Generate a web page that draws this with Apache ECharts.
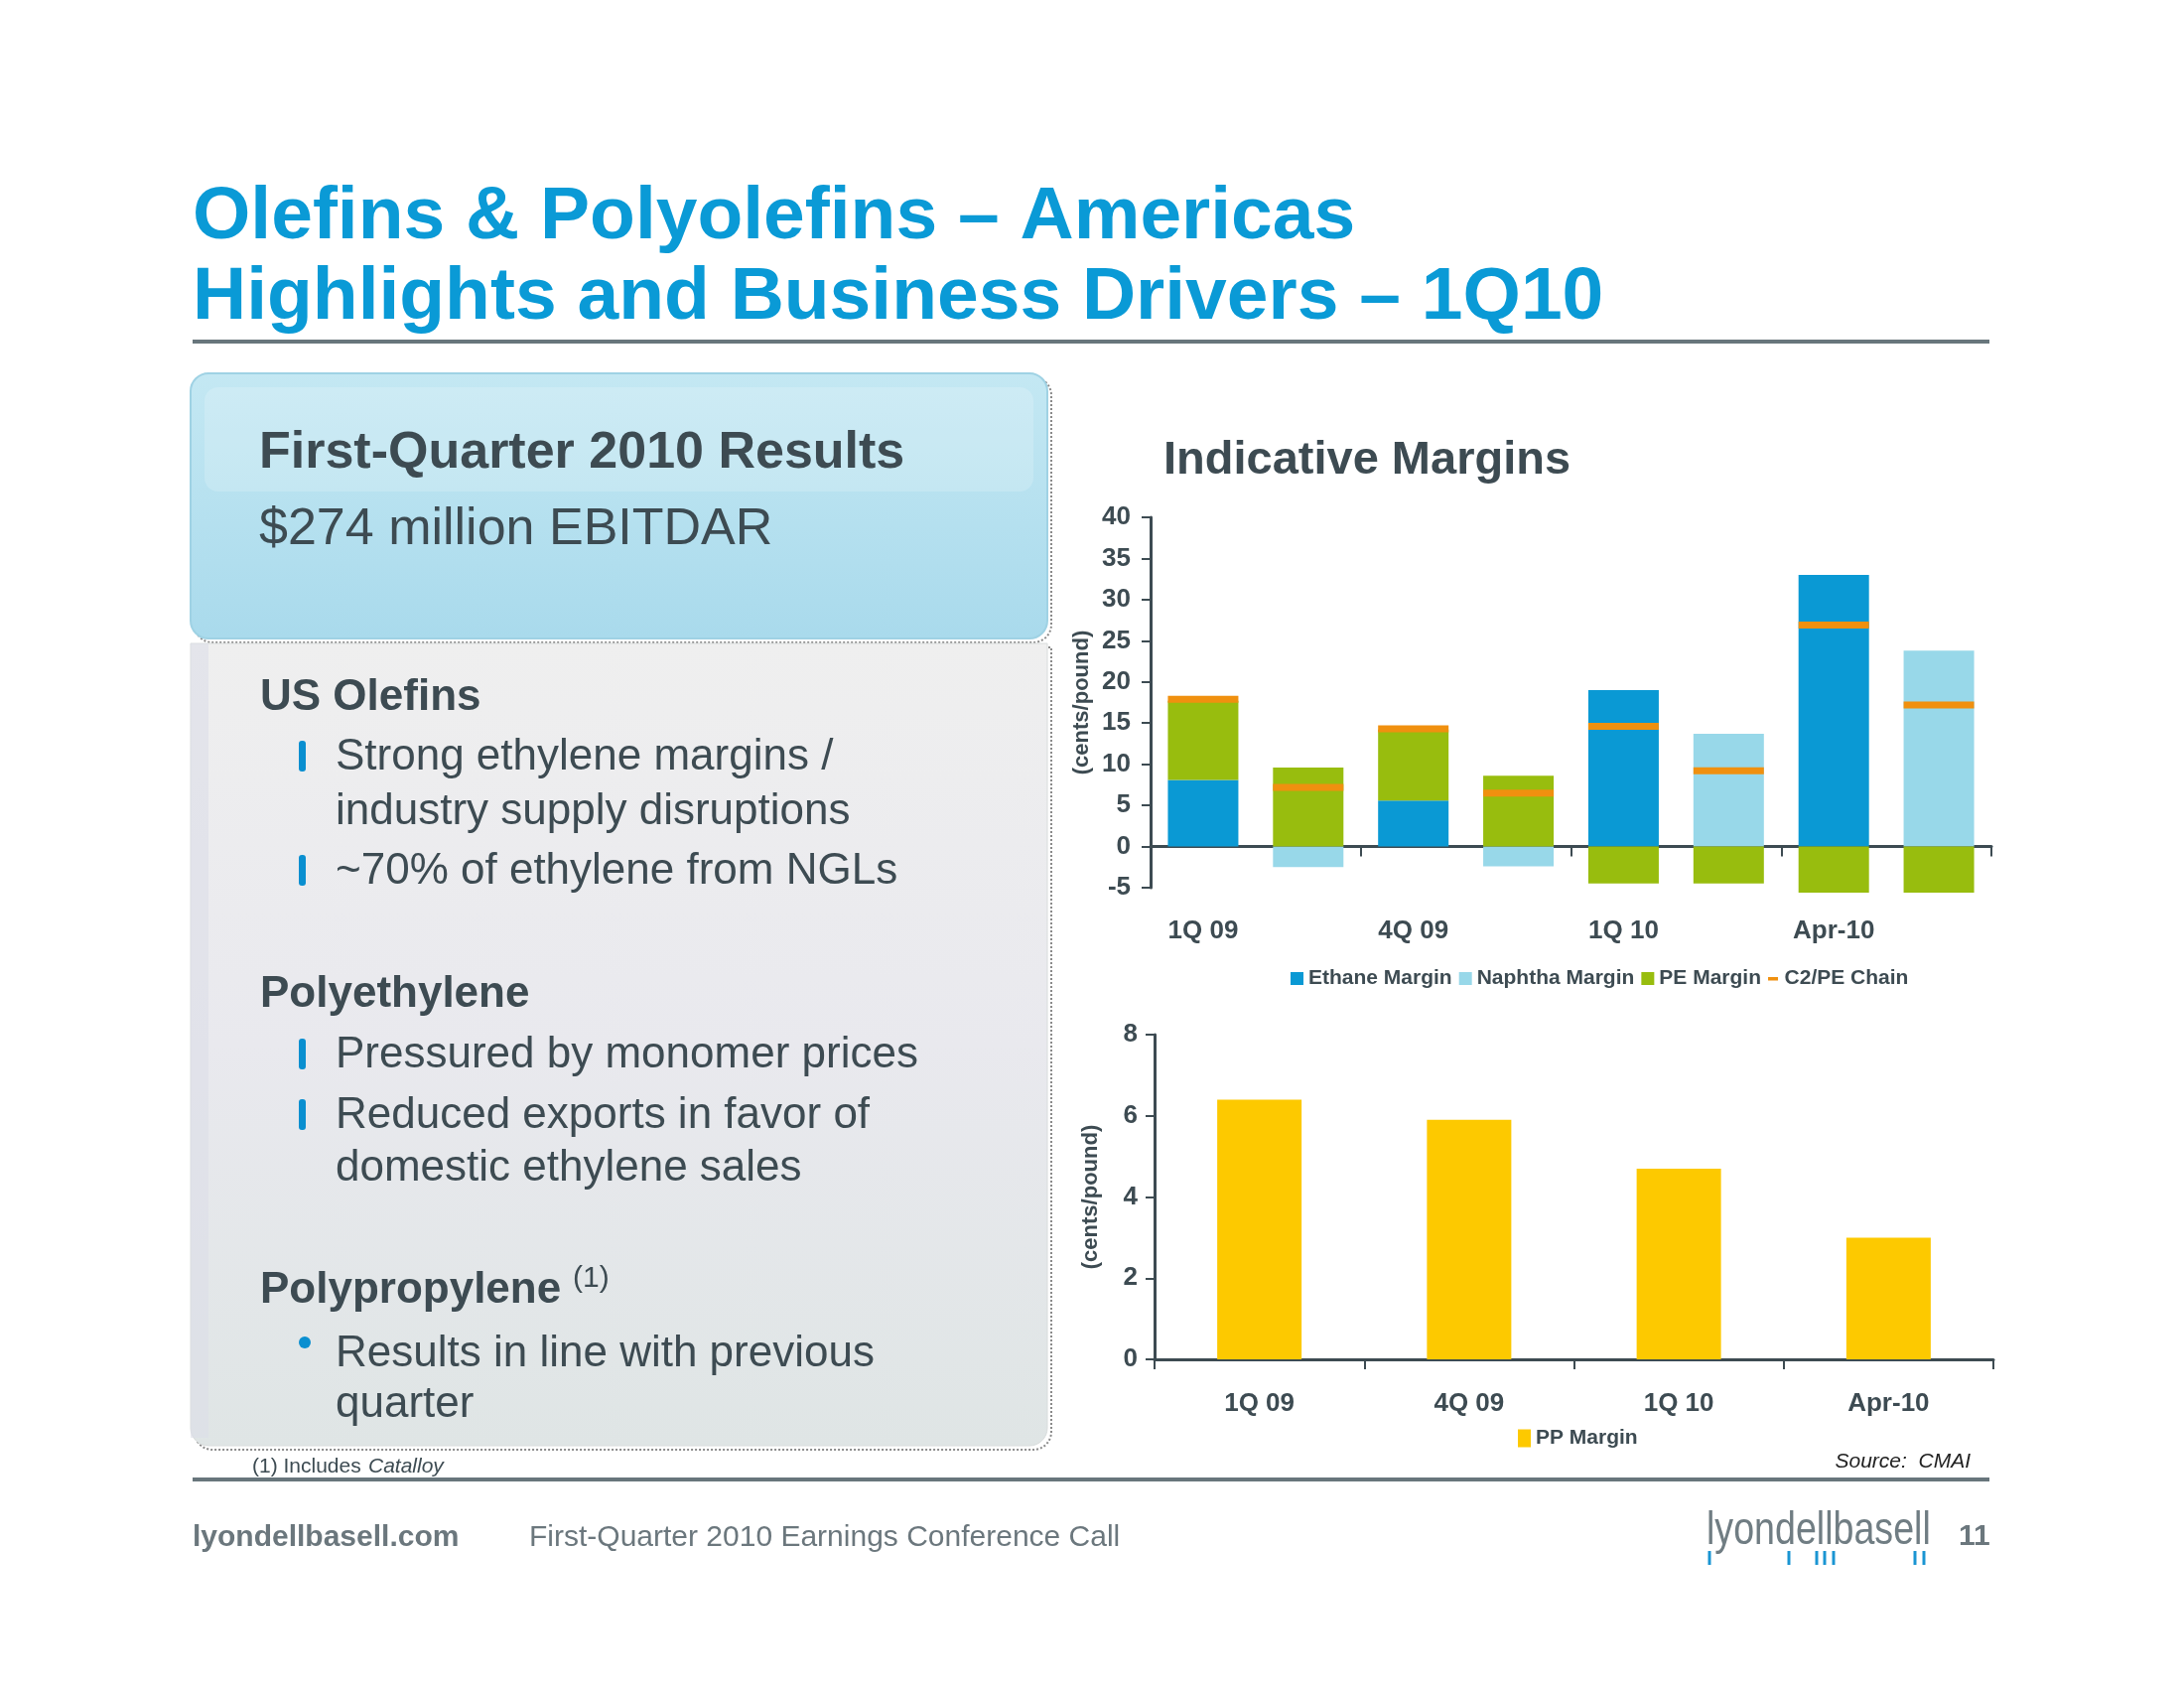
<!DOCTYPE html>
<html><head><meta charset="utf-8">
<script src="https://cdn.jsdelivr.net/npm/echarts@6/dist/echarts.min.js"></script>
<style>html,body{margin:0;padding:0;background:#fff}#c{width:2200px;height:1700px}</style>
</head><body><div id="c"></div>
<script>
// ---- data ----
const periods = ['1Q 09', '4Q 09', '1Q 10', 'Apr-10'];
const ethaneMargin = [8.1, 5.6, 19.0, 33.0];
const naphthaMargin = [-2.5, -2.4, 13.7, 23.8];
const peMargin = [9.6, 8.6, -4.5, -5.6];
const chainEthane = [17.9, 14.3, 14.6, 26.9];
const chainNaphtha = [7.2, 6.5, 9.2, 17.2];
const ppMargin = [6.4, 5.9, 4.7, 3.0];

// two bars per period: ethane-based then naphtha-based
const slots = periods.flatMap(p => [p, p + ' ']);
const ethaneSlots = periods.flatMap((p, i) => [ethaneMargin[i], null]);
const naphthaSlots = periods.flatMap((p, i) => [null, naphthaMargin[i]]);
const peSlots = periods.flatMap((p, i) => [peMargin[i], peMargin[i]]);
const chainSlots = periods.flatMap((p, i) => [chainEthane[i], chainNaphtha[i]]);

const FF = '"Liberation Sans", Arial, sans-serif';
const DARK = '#3d4b52';
const GRAY = '#6b777d';
const BLUE = '#0a9ad6';
const DY = 4;

function txt(x, y, text, font, fill, extra) {
  return Object.assign({type: 'text', x: x, y: y + DY, z: 10,
    style: {text: text, font: font, fill: fill || DARK, align: 'left', verticalAlign: 'middle'}}, extra || {});
}
function bar(x, y, h) {
  return {type: 'rect', z: 10, shape: {x: x, y: y, width: 7, height: h, r: 3}, style: {fill: '#0a8fd0'}};
}

const graphics = [
  // title
  txt(194, 215, 'Olefins & Polyolefins \u2013 Americas', 'bold 75px ' + FF, BLUE),
  txt(194, 296, 'Highlights and Business Drivers \u2013 1Q10', 'bold 75px ' + FF, BLUE),
  {type: 'rect', shape: {x: 194, y: 342, width: 1810, height: 4}, style: {fill: '#68767c'}},
  {type: 'rect', shape: {x: 194, y: 1488, width: 1810, height: 4}, style: {fill: '#68767c'}},
  // blue panel
  {type: 'rect', z: 1, shape: {x: 196, y: 380, width: 863, height: 267, r: 18}, style: {fill: 'none', stroke: '#8a8a8a', lineWidth: 2, lineDash: [2, 2]}},
  {type: 'rect', z: 2, shape: {x: 192, y: 376, width: 863, height: 267, r: 18},
    style: {fill: new echarts.graphic.LinearGradient(0, 0, 0, 1, [{offset: 0, color: '#c4e8f3'}, {offset: 1, color: '#a9daec'}]), stroke: '#9fd2e4', lineWidth: 2}},
  {type: 'rect', z: 3, shape: {x: 206, y: 390, width: 835, height: 105, r: 14}, style: {fill: 'rgba(255,255,255,0.18)'}},
  // gray panel
  {type: 'rect', z: 1, shape: {x: 196, y: 652, width: 863, height: 808, r: [0, 0, 18, 18]}, style: {fill: 'none', stroke: '#8a8a8a', lineWidth: 2, lineDash: [2, 2]}},
  {type: 'rect', z: 2, shape: {x: 192, y: 648, width: 863, height: 808, r: [0, 0, 18, 18]},
    style: {fill: new echarts.graphic.LinearGradient(0, 0, 0, 1, [{offset: 0, color: '#efefef'}, {offset: 0.5, color: '#e9e9ee'}, {offset: 1, color: '#dfe5e5'}]), stroke: '#d8dcdc', lineWidth: 1}},
  {type: 'rect', z: 3, shape: {x: 192, y: 648, width: 18, height: 800}, style: {fill: 'rgba(220,222,232,0.6)'}},
  // panel texts
  txt(261, 453, 'First-Quarter 2010 Results', 'bold 52px ' + FF),
  txt(261, 530, '$274 million EBITDAR', '52px ' + FF),
  txt(262, 699, 'US Olefins', 'bold 44px ' + FF),
  bar(301, 746, 31), txt(338, 759, 'Strong ethylene margins /', '44px ' + FF),
  txt(338, 814, 'industry supply disruptions', '44px ' + FF),
  bar(301, 861, 31), txt(338, 874, '~70% of ethylene from NGLs', '44px ' + FF),
  txt(262, 998, 'Polyethylene', 'bold 44px ' + FF),
  bar(301, 1046, 31), txt(338, 1059, 'Pressured by monomer prices', '44px ' + FF),
  bar(301, 1107, 31), txt(338, 1120, 'Reduced exports in favor of', '44px ' + FF),
  txt(338, 1173, 'domestic ethylene sales', '44px ' + FF),
  txt(262, 1296, 'Polypropylene', 'bold 44px ' + FF),
  txt(577, 1284, '(1)', '30px ' + FF),
  {type: 'circle', z: 10, shape: {cx: 307, cy: 1352, r: 6}, style: {fill: '#0a8fd0'}},
  txt(338, 1360, 'Results in line with previous', '44px ' + FF),
  txt(338, 1411, 'quarter', '44px ' + FF),
  txt(254, 1473, '(1) Includes', '21px ' + FF),
  txt(371, 1473, 'Catalloy', 'italic 21px ' + FF),
  // chart title and source
  txt(1172, 460, 'Indicative Margins', 'bold 47px ' + FF),
  {type: 'text', x: 1985, y: 1468 + DY, z: 10, style: {text: 'Source:  CMAI', font: 'italic 21px ' + FF, fill: '#222', align: 'right', verticalAlign: 'middle'}},
  // footer
  txt(194, 1545, 'lyondellbasell.com', 'bold 30px ' + FF, GRAY),
  txt(533, 1545, 'First-Quarter 2010 Earnings Conference Call', '30px ' + FF, GRAY),
  txt(1719, 1538, 'lyondellbasell', '47px ' + FF, '#707d83', {scaleX: 0.8}),
  txt(1973, 1544, '11', 'bold 30px ' + FF, GRAY)
];
[1722, 1802, 1830, 1838, 1847, 1929, 1938].forEach(x => {
  graphics.push({type: 'rect', z: 10, shape: {x: x - 1.5, y: 1562, width: 3, height: 14}, style: {fill: '#1a95d2'}});
});

const axisColor = DARK;
const labelStyle = {color: DARK, fontSize: 26, fontWeight: 'bold', fontFamily: FF};
const nameStyle = {color: DARK, fontSize: 22, fontWeight: 'bold', fontFamily: FF};

const chart = echarts.init(document.getElementById('c'), null, {renderer: 'canvas'});
chart.setOption({
  backgroundColor: '#ffffff',
  animation: false,
  textStyle: {fontFamily: FF},
  grid: [
    {left: 1159, right: 194, top: 521, height: 373},
    {left: 1163, right: 192, top: 1042, height: 327}
  ],
  xAxis: [
    {type: 'category', gridIndex: 0, data: slots,
      axisLine: {onZero: true, lineStyle: {color: axisColor, width: 3}},
      axisTick: {show: true, interval: 1, length: 10, lineStyle: {color: axisColor, width: 2}},
      axisLabel: {show: false}},
    {type: 'category', gridIndex: 0, data: slots, position: 'bottom',
      axisLine: {show: false, onZero: false}, axisTick: {show: false},
      axisLabel: Object.assign({interval: 1, margin: 31}, labelStyle)},
    {type: 'category', gridIndex: 1, data: periods,
      axisLine: {lineStyle: {color: axisColor, width: 3}},
      axisTick: {show: true, length: 10, lineStyle: {color: axisColor, width: 2}},
      axisLabel: Object.assign({margin: 32}, labelStyle)}
  ],
  yAxis: [
    {type: 'value', gridIndex: 0, min: -5, max: 40, interval: 5,
      name: '(cents/pound)', nameLocation: 'middle', nameGap: 58, nameRotate: 90, nameTextStyle: nameStyle,
      axisLine: {show: true, lineStyle: {color: axisColor, width: 3}},
      axisTick: {show: true, length: 9, lineStyle: {color: axisColor, width: 2}},
      splitLine: {show: false},
      axisLabel: Object.assign({margin: 20}, labelStyle)},
    {type: 'value', gridIndex: 1, min: 0, max: 8, interval: 2,
      name: '(cents/pound)', nameLocation: 'middle', nameGap: 53, nameRotate: 90, nameTextStyle: nameStyle,
      axisLine: {show: true, lineStyle: {color: axisColor, width: 3}},
      axisTick: {show: true, length: 9, lineStyle: {color: axisColor, width: 2}},
      splitLine: {show: false},
      axisLabel: Object.assign({margin: 17}, labelStyle)}
  ],
  legend: [
    {left: 1300, top: 975, padding: 0, itemGap: 7, itemWidth: 13, itemHeight: 13,
      textStyle: {color: DARK, fontSize: 21, fontWeight: 'bold', fontFamily: FF},
      data: [
        {name: 'Ethane Margin', icon: 'rect'},
        {name: 'Naphtha Margin', icon: 'rect'},
        {name: 'PE Margin', icon: 'rect'},
        {name: 'C2/PE Chain', icon: 'path://M0,5 h10 v3.5 h-10 z M0,0 h0.01 v13 h-0.01 z'}
      ]},
    {left: 1529, top: 1438, padding: 0, itemWidth: 13, itemHeight: 18,
      textStyle: {color: DARK, fontSize: 21, fontWeight: 'bold', fontFamily: FF},
      data: [{name: 'PP Margin', icon: 'rect'}]}
  ],
  series: [
    {name: 'Ethane Margin', type: 'bar', xAxisIndex: 0, yAxisIndex: 0, stack: 'm', barWidth: 71, clip: false,
      itemStyle: {color: '#0a99d4'}, data: ethaneSlots},
    {name: 'Naphtha Margin', type: 'bar', xAxisIndex: 0, yAxisIndex: 0, stack: 'm', barWidth: 71, clip: false,
      itemStyle: {color: '#98d8e9'}, data: naphthaSlots},
    {name: 'PE Margin', type: 'bar', xAxisIndex: 0, yAxisIndex: 0, stack: 'm', barWidth: 71, clip: false,
      itemStyle: {color: '#98bd0e'}, data: peSlots},
    {name: 'C2/PE Chain', type: 'scatter', xAxisIndex: 0, yAxisIndex: 0, z: 5, clip: false,
      symbol: 'rect', symbolSize: [71, 7], itemStyle: {color: '#f0900f', opacity: 1}, data: chainSlots},
    {name: 'PP Margin', type: 'bar', xAxisIndex: 2, yAxisIndex: 1, barWidth: 85, clip: false,
      itemStyle: {color: '#fdc900'}, data: ppMargin}
  ],
  graphic: {elements: graphics}
});
</script>
</body></html>
